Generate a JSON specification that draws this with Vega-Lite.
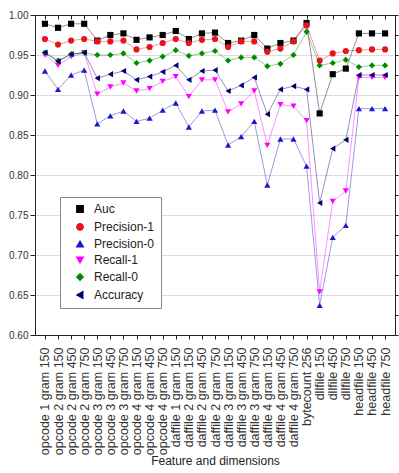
{
  "$schema": "https://vega.github.io/schema/vega-lite/v6.json",
  "width": 360,
  "height": 320,
  "autosize": {"type": "none"},
  "padding": {"left": 35, "top": 15, "right": 4, "bottom": 138},
  "background": "white",
  "config": {
    "font": "Liberation Sans",
    "view": {"stroke": "#222", "strokeWidth": 1},
    "axis": {"domainColor": "#222", "tickColor": "#222", "labelColor": "#333", "titleColor": "#222", "labelFont": "Liberation Sans", "titleFont": "Liberation Sans"},
    "legend": {"orient": "none", "legendX": 25, "legendY": 182, "labelFontSize": 12, "labelColor": "#222", "symbolSize": 40, "symbolOpacity": 1, "rowPadding": 4, "padding": 6, "strokeColor": "#888", "strokeWidth": 1, "fillColor": "white", "labelOffset": 8, "symbolOffset": 8}
  },
  "data": {"values": [
    {"f": "opcode 1 gram 150", "Auc": 0.989, "Precision-1": 0.970, "Precision-0": 0.930, "Recall-1": 0.950, "Recall-0": 0.953, "Accuracy": 0.953},
    {"f": "opcode 2 gram 150", "Auc": 0.984, "Precision-1": 0.963, "Precision-0": 0.907, "Recall-1": 0.937, "Recall-0": 0.943, "Accuracy": 0.942},
    {"f": "opcode 2 gram 450", "Auc": 0.989, "Precision-1": 0.968, "Precision-0": 0.925, "Recall-1": 0.948, "Recall-0": 0.951, "Accuracy": 0.951},
    {"f": "opcode 2 gram 750", "Auc": 0.989, "Precision-1": 0.970, "Precision-0": 0.931, "Recall-1": 0.953, "Recall-0": 0.953, "Accuracy": 0.953},
    {"f": "opcode 3 gram 150", "Auc": 0.968, "Precision-1": 0.967, "Precision-0": 0.864, "Recall-1": 0.901, "Recall-0": 0.950, "Accuracy": 0.921},
    {"f": "opcode 3 gram 450", "Auc": 0.975, "Precision-1": 0.967, "Precision-0": 0.874, "Recall-1": 0.910, "Recall-0": 0.950, "Accuracy": 0.926},
    {"f": "opcode 3 gram 750", "Auc": 0.977, "Precision-1": 0.968, "Precision-0": 0.880, "Recall-1": 0.915, "Recall-0": 0.952, "Accuracy": 0.930},
    {"f": "opcode 4 gram 150", "Auc": 0.969, "Precision-1": 0.957, "Precision-0": 0.867, "Recall-1": 0.905, "Recall-0": 0.940, "Accuracy": 0.919},
    {"f": "opcode 4 gram 450", "Auc": 0.972, "Precision-1": 0.960, "Precision-0": 0.871, "Recall-1": 0.908, "Recall-0": 0.943, "Accuracy": 0.923},
    {"f": "opcode 4 gram 750", "Auc": 0.975, "Precision-1": 0.965, "Precision-0": 0.881, "Recall-1": 0.917, "Recall-0": 0.948, "Accuracy": 0.929},
    {"f": "daffile 1 gram 150", "Auc": 0.980, "Precision-1": 0.970, "Precision-0": 0.890, "Recall-1": 0.923, "Recall-0": 0.956, "Accuracy": 0.937},
    {"f": "daffile 2 gram 150", "Auc": 0.970, "Precision-1": 0.965, "Precision-0": 0.860, "Recall-1": 0.898, "Recall-0": 0.949, "Accuracy": 0.919},
    {"f": "daffile 2 gram 450", "Auc": 0.977, "Precision-1": 0.969, "Precision-0": 0.880, "Recall-1": 0.919, "Recall-0": 0.952, "Accuracy": 0.930},
    {"f": "daffile 2 gram 750", "Auc": 0.978, "Precision-1": 0.970, "Precision-0": 0.881, "Recall-1": 0.919, "Recall-0": 0.955, "Accuracy": 0.931},
    {"f": "daffile 3 gram 150", "Auc": 0.965, "Precision-1": 0.960, "Precision-0": 0.8375, "Recall-1": 0.879, "Recall-0": 0.943, "Accuracy": 0.905},
    {"f": "daffile 3 gram 450", "Auc": 0.968, "Precision-1": 0.967, "Precision-0": 0.848, "Recall-1": 0.889, "Recall-0": 0.947, "Accuracy": 0.912},
    {"f": "daffile 3 gram 750", "Auc": 0.975, "Precision-1": 0.967, "Precision-0": 0.867, "Recall-1": 0.905, "Recall-0": 0.947, "Accuracy": 0.922},
    {"f": "daffile 4 gram 150", "Auc": 0.958, "Precision-1": 0.954, "Precision-0": 0.7875, "Recall-1": 0.837, "Recall-0": 0.936, "Accuracy": 0.876},
    {"f": "daffile 4 gram 450", "Auc": 0.965, "Precision-1": 0.958, "Precision-0": 0.845, "Recall-1": 0.888, "Recall-0": 0.939, "Accuracy": 0.907},
    {"f": "daffile 4 gram 750", "Auc": 0.968, "Precision-1": 0.967, "Precision-0": 0.845, "Recall-1": 0.886, "Recall-0": 0.950, "Accuracy": 0.911},
    {"f": "bytecount 256", "Auc": 0.990, "Precision-1": 0.987, "Precision-0": 0.811, "Recall-1": 0.868, "Recall-0": 0.979, "Accuracy": 0.907},
    {"f": "dllfile 150", "Auc": 0.877, "Precision-1": 0.943, "Precision-0": 0.637, "Recall-1": 0.654, "Recall-0": 0.937, "Accuracy": 0.765},
    {"f": "dllfile 450", "Auc": 0.926, "Precision-1": 0.952, "Precision-0": 0.722, "Recall-1": 0.767, "Recall-0": 0.940, "Accuracy": 0.833},
    {"f": "dllfile 750", "Auc": 0.933, "Precision-1": 0.955, "Precision-0": 0.737, "Recall-1": 0.780, "Recall-0": 0.944, "Accuracy": 0.844},
    {"f": "headfile 150", "Auc": 0.977, "Precision-1": 0.956, "Precision-0": 0.883, "Recall-1": 0.922, "Recall-0": 0.935, "Accuracy": 0.925},
    {"f": "headfile 450", "Auc": 0.977, "Precision-1": 0.957, "Precision-0": 0.883, "Recall-1": 0.922, "Recall-0": 0.937, "Accuracy": 0.925},
    {"f": "headfile 750", "Auc": 0.977, "Precision-1": 0.957, "Precision-0": 0.883, "Recall-1": 0.922, "Recall-0": 0.937, "Accuracy": 0.925}
  ]},
  "transform": [
    {"fold": ["Auc", "Precision-1", "Precision-0", "Recall-1", "Recall-0", "Accuracy"], "as": ["metric", "value"]}
  ],
  "encoding": {
    "x": {"field": "f", "type": "nominal", "sort": null, "scale": {"type": "point", "padding": 0.76}},
    "y": {"field": "value", "type": "quantitative", "scale": {"domain": [0.6, 1.0], "nice": false, "zero": false}},
    "color": {
      "field": "metric", "type": "nominal", "title": null,
      "scale": {"domain": ["Auc", "Precision-1", "Precision-0", "Recall-1", "Recall-0", "Accuracy"], "range": ["#000000", "#e8141c", "#1a1ac8", "#ff00ff", "#008a00", "#00006e"]}
    }
  },
  "layer": [
    {
      "mark": {"type": "line", "strokeWidth": 0.8, "opacity": 0.55},
      "encoding": {
        "detail": {"field": "metric"},
        "x": {"field": "f", "type": "nominal", "sort": null, "title": "Feature and dimensions",
          "axis": {"orient": "bottom", "labelAngle": 270, "labelFontSize": 12.5, "labelPadding": 8, "tickSize": 4, "titleFontSize": 12, "titleFontWeight": "normal", "titlePadding": 1, "grid": false}},
        "y": {"field": "value", "type": "quantitative", "title": null,
          "axis": {"orient": "left", "values": [0.6, 0.65, 0.7, 0.75, 0.8, 0.85, 0.9, 0.95, 1.0], "format": ".2f", "labelFontSize": 10, "tickSize": 5, "labelPadding": 2, "grid": true, "gridColor": "#dcdcdc", "gridWidth": 1}}
      }
    },
    {
      "mark": {"type": "point", "filled": true, "size": 38, "opacity": 1},
      "encoding": {
        "x": {"field": "f", "type": "nominal", "sort": null, "axis": null},
        "y": {"field": "value", "type": "quantitative", "axis": null},
        "shape": {
          "field": "metric", "type": "nominal", "title": null,
          "scale": {"domain": ["Auc", "Precision-1", "Precision-0", "Recall-1", "Recall-0", "Accuracy"], "range": ["square", "circle", "triangle-up", "triangle-down", "diamond", "triangle-left"]}
        }
      }
    },
    {
      "mark": {"type": "rule", "opacity": 0},
      "encoding": {
        "x": {"field": "f", "type": "nominal", "sort": null, "axis": {"orient": "top", "labels": false, "title": null, "tickSize": -4, "domain": true, "grid": false}},
        "y": {"field": "value", "type": "quantitative", "axis": {"orient": "right", "labels": false, "title": null, "tickSize": 3, "values": [0.6, 0.625, 0.65, 0.675, 0.7, 0.725, 0.75, 0.775, 0.8, 0.825, 0.85, 0.875, 0.9, 0.925, 0.95, 0.975, 1.0], "grid": false}}
      }
    }
  ],
  "resolve": {"axis": {"x": "independent", "y": "independent"}}
}
